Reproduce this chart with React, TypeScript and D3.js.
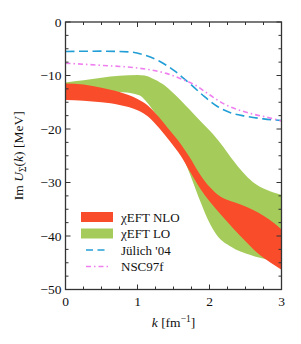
import React from "react";
import * as d3 from "d3";

const nloUpper: [number, number][] = [[0,-11.5],[0.25,-11.7],[0.5,-12.3],[0.75,-13.1],[1.0,-14.4],[1.15,-15.7],[1.3,-17.8],[1.45,-20.3],[1.6,-22.8],[1.72,-25.2],[1.86,-28.3],[2.0,-30.8],[2.15,-32.6],[2.3,-33.5],[2.45,-34.2],[2.6,-35.1],[2.75,-36.2],[2.9,-37.6],[3.0,-38.8]];
const nloLower: [number, number][] = [[0,-14.6],[0.25,-14.7],[0.5,-15.0],[0.75,-15.5],[1.0,-16.5],[1.15,-17.7],[1.3,-19.8],[1.45,-22.3],[1.6,-25.0],[1.73,-28.0],[1.87,-31.1],[2.0,-33.5],[2.15,-35.9],[2.33,-38.6],[2.5,-41.0],[2.65,-43.0],[2.85,-45.0],[3.0,-46.3]];
const loUpper: [number, number][] = [[0,-11.3],[0.25,-10.9],[0.5,-10.4],[0.75,-10.05],[1.0,-9.9],[1.1,-10.0],[1.2,-10.5],[1.35,-11.6],[1.5,-13.3],[1.72,-16.3],[1.9,-18.9],[2.05,-21.0],[2.19,-23.3],[2.33,-25.9],[2.47,-28.2],[2.6,-29.9],[2.8,-31.4],[3.0,-32.3]];
const loLower: [number, number][] = [[0,-13.0],[0.25,-12.9],[0.5,-12.8],[0.75,-13.1],[0.95,-13.4],[1.05,-13.9],[1.13,-15.0],[1.2,-16.2],[1.3,-18.0],[1.45,-20.8],[1.6,-24.3],[1.73,-28.5],[1.88,-33.8],[1.98,-37.0],[2.1,-39.8],[2.3,-42.0],[2.56,-43.5],[2.84,-44.5],[3.0,-44.9]];
const juelich: [number, number][] = [[0,-5.5],[0.5,-5.45],[0.9,-5.6],[1.1,-6.2],[1.3,-7.3],[1.5,-9.0],[1.7,-11.2],[1.9,-13.6],[2.1,-15.7],[2.3,-17.0],[2.5,-17.6],[2.75,-18.1],[3.0,-18.4]];
const nsc97f: [number, number][] = [[0,-7.7],[0.5,-8.1],[1.0,-8.6],[1.2,-9.0],[1.4,-9.6],[1.6,-10.6],[1.8,-11.8],[2.0,-13.6],[2.2,-15.3],[2.4,-16.4],[2.6,-17.2],[2.8,-17.8],[3.0,-18.5]];

const xMajor = [0, 1, 2, 3];
const yMajor = [0, -10, -20, -30, -40, -50];
const legendLabels = ["χEFT NLO", "χEFT LO", "Jülich '04", "NSC97f"];

const W = 301, H = 344;
const m = { left: 65.5, right: 281.5, top: 22, bottom: 289.5 };
const RED = "#f94c2a";
const GREEN = "#a5cc5b";
const BLUE = "#229ed6";
const PINK = "#ef7fef";
const FONT = "'Liberation Serif', 'DejaVu Serif', serif";

export default function App() {
  const x = d3.scaleLinear().domain([0, 3]).range([m.left, m.right]);
  const y = d3.scaleLinear().domain([-50, 0]).range([m.bottom, m.top]);
  const line = d3.line<[number, number]>().x(d => x(d[0])).y(d => y(d[1])).curve(d3.curveMonotoneX);
  const band = (upper: [number, number][], lower: [number, number][]) => {
    const a = line(upper) as string;
    const b = (line([...lower].reverse()) as string).replace(/^M/, "L");
    return a + b + "Z";
  };
  const xMinor = d3.range(0, 3.001, 0.25);
  const yMinor = d3.range(-50, 0.001, 2.5);
  const axisColor = "#333";

  const lx = 81, tx = 121;
  const ly = [217, 233.5, 250, 266.5];

  return (
    <svg width={W} height={H} style={{ position: "absolute", left: 0, top: 0, background: "#fff" }} fontFamily={FONT}>
      <defs>
        <clipPath id="plot">
          <rect x={m.left} y={m.top} width={m.right - m.left} height={m.bottom - m.top} />
        </clipPath>
      </defs>
      <g clipPath="url(#plot)">
        <path d={band(loUpper, loLower)} fill={GREEN} />
        <path d={band(nloUpper, nloLower)} fill={RED} />
        <path d={line(juelich) as string} fill="none" stroke={BLUE} strokeWidth={1.6} strokeDasharray="9,4.5" />
        <path d={line(nsc97f) as string} fill="none" stroke={PINK} strokeWidth={1.6} strokeDasharray="5,3,1.5,3" />
      </g>
      {xMinor.map((k, i) => {
        const major = Math.abs(k - Math.round(k)) < 1e-6;
        const len = major ? 5 : 3;
        return (
          <g key={"xt" + i} stroke={axisColor} strokeWidth={1}>
            <line x1={x(k)} x2={x(k)} y1={m.bottom} y2={m.bottom - len} />
            <line x1={x(k)} x2={x(k)} y1={m.top} y2={m.top + len} />
          </g>
        );
      })}
      {yMinor.map((v, i) => {
        const major = Math.abs(v / 10 - Math.round(v / 10)) < 1e-6;
        const len = major ? 5 : 3;
        return (
          <g key={"yt" + i} stroke={axisColor} strokeWidth={1}>
            <line x1={m.left} x2={m.left + len} y1={y(v)} y2={y(v)} />
            <line x1={m.right} x2={m.right - len} y1={y(v)} y2={y(v)} />
          </g>
        );
      })}
      <rect x={m.left} y={m.top} width={m.right - m.left} height={m.bottom - m.top} fill="none" stroke={axisColor} strokeWidth={1.3} />
      {xMajor.map(k => (
        <text key={"xl" + k} x={x(k)} y={m.bottom + 16} fontSize={13.5} textAnchor="middle" fill="#111">{k}</text>
      ))}
      {yMajor.map(v => (
        <text key={"yl" + v} x={m.left - 4} y={y(v) + 4.5} fontSize={13.5} textAnchor="end" fill="#111">{v === 0 ? "0" : "−" + Math.abs(v)}</text>
      ))}
      <text x={(m.left + m.right) / 2} y={327} fontSize={13.5} textAnchor="middle" fill="#111">
        <tspan fontStyle="italic">k</tspan>
        <tspan> [fm</tspan>
        <tspan fontSize={9.5} dy={-5}>−1</tspan>
        <tspan dy={5}>]</tspan>
      </text>
      <text transform={`translate(23, ${(m.top + m.bottom) / 2}) rotate(-90)`} fontSize={13.5} textAnchor="middle" fill="#111">
        <tspan>Im </tspan>
        <tspan fontStyle="italic">U</tspan>
        <tspan fontSize={9.5} dy={3}>Σ</tspan>
        <tspan dy={-3}>(</tspan>
        <tspan fontStyle="italic">k</tspan>
        <tspan>) [MeV]</tspan>
      </text>
      <rect x={lx} y={ly[0] - 5} width={32} height={10} fill={RED} />
      <rect x={lx} y={ly[1] - 5} width={32} height={10} fill={GREEN} />
      <line x1={lx + 5} x2={lx + 28} y1={ly[2]} y2={ly[2]} stroke={BLUE} strokeWidth={1.6} strokeDasharray="7,4.5" />
      <line x1={lx + 5} x2={lx + 28} y1={ly[3]} y2={ly[3]} stroke={PINK} strokeWidth={1.6} strokeDasharray="5,3,1.5,3" />
      {legendLabels.map((t, i) => (
        <text key={t} x={tx} y={ly[i] + 4.5} fontSize={13} fill="#111">{t}</text>
      ))}
    </svg>
  );
}
